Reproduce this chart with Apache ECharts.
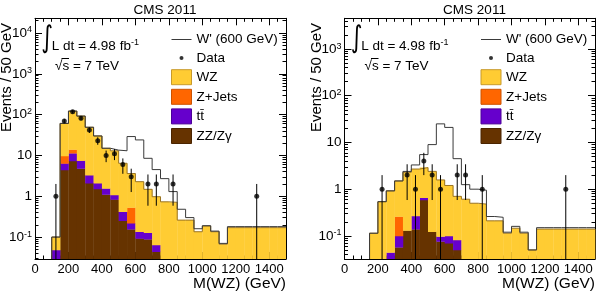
<!DOCTYPE html>
<html><head><meta charset="utf-8">
<script src="https://cdn.jsdelivr.net/npm/echarts@6/dist/echarts.min.js"></script>
<style>html,body{margin:0;padding:0;background:#fff}#c{width:600px;height:296px}</style>
</head><body><div id="c"></div>
<script>
// ---------- data (50 GeV bins) ----------
const binStart = [0,50,100,150,200,250,300,350,400,450,500,550,600,650,700,750,800,850,900,950,1000,1050,1100,1150,1200,1250,1300,1350,1400,1450];
const binWidth = 50;
const xTickLabels = ['0','200','400','600','800','1000','1200','1400'];
const yTickValues = [0.1, 1, 10, 100, 1000, 10000];
const yTickLabels = ['{b|10}{s|-1}', '1', '10', '{b|10}{s|2}', '{b|10}{s|3}', '{b|10}{s|4}'];
const legendNames = ["W' (600 GeV)", 'Data', 'WZ', 'Z+Jets', 'tt\u0304', 'ZZ/Z\u03b3'];

// left panel
const leftZZ = [0,0,0,4.4,7.3,4.8,2.1,1.5,1.1,0.84,0.25,0.155,0.093,0.088,0.044,0,0,0,0,0,0,0,0,0,0,0,0,0,0,0];
const leftTT = [0,0,0.048,2.0,4.0,2.6,1.2,0.6,0.46,0.23,0.17,0.065,0.042,0.04,0.02,0,0,0,0,0,0,0,0,0,0,0,0,0,0,0];
const leftZJ = [0,0,0,3.3,2.7,0.1,0,0,0,0,0,0.31,0,0,0,0,0,0,0,0,0,0,0,0,0,0,0,0,0,0];
const leftWZ = [0,0,0.052,51,108,84.5,45.7,27.9,13.4,11.9,6.0,3.07,2.14,1.35,0.91,0.73,0.71,0.26,0.26,0.135,0.186,0.135,0.067,0.17,0.17,0.17,0.17,0.17,0.17,0.17];
const leftWprime = [0,0,0.1,61,122,92,49,30,15,13.5,13,29,24,8.5,4.5,2.7,1.3,0.48,0.3,0.16,0.19,0.14,0.07,0.18,0.18,0.18,0.18,0.18,0.18,0.18];
const leftData = [0,0,1,70,118,81,42,23,10,11,6,3,0,2,2,0,2,0,0,0,0,0,0,0,0,0,1,0,0,0];

// right panel
const rightZZ = [0,0,0,0,0,0,0.057,0.13,0.139,0.59,0.123,0.076,0.07,0.05,0,0,0,0,0,0,0,0,0,0,0,0,0,0,0,0];
const rightTT = [0,0,0,0,0,0.044,0.043,0,0.129,0.07,0,0.021,0.03,0.032,0,0,0,0,0,0,0,0,0,0,0,0,0,0,0,0];
const rightZJ = [0,0,0,0,0,0,0.16,0,0,0,0,0,0,0,0,0,0,0,0,0,0,0,0,0,0,0,0,0,0,0];
const rightWZ = [0,0,0,0.114,0.54,0.876,1.24,2.17,2.43,2.24,2.28,1.48,1.1,0.62,0.61,0.5,0.48,0.21,0.21,0.114,0.146,0.114,0.05,0.14,0.14,0.14,0.14,0.14,0.14,0.14];
const rightWprime = [0,0,0,0.114,0.54,0.92,1.5,2.4,3.3,5.5,9,25,21,4.5,1.25,1.0,0.95,0.26,0.25,0.12,0.16,0.12,0.05,0.15,0.15,0.15,0.15,0.15,0.15,0.15];
const rightData = [0,0,0,0,1,0,0,2,1,4,2,1,0,2,2,0,1,0,0,0,0,0,0,0,0,0,1,0,0,0];

// ---------- style ----------
const FONT = 'Liberation Sans, Arial, Helvetica, sans-serif';
const COLORS = { zz:'#663300', tt:'#6600cc', zj:'#ff6600', wz:'#ffcc33' };
const BORDERS = { zz:'#4a2400', tt:'#4c0099', zj:'#cc5200', wz:'#c89a2a' };
const panels = [
  { left:35, width:251, ymin:0.029, ymax:22900, dx:0,
    zz:leftZZ, tt:leftTT, zj:leftZJ, wz:leftWZ, wp:leftWprime, data:leftData },
  { left:344.5, width:250.5, ymin:0.032, ymax:4550, dx:309.5,
    zz:rightZZ, tt:rightTT, zj:rightZJ, wz:rightWZ, wp:rightWprime, data:rightData }
];
const XMAX = 1500;

function rectRender(params, api) {
  const cs = params.coordSys;
  const x0 = api.value(0), x1 = api.value(1), lo = api.value(2), hi = api.value(3);
  const bottom = cs.y + cs.height;
  const pTop = api.coord([x0, hi]);
  const xR = api.coord([x1, hi])[0];
  let yLo = lo > 0 ? api.coord([x1, lo])[1] : bottom;
  if (yLo > bottom) yLo = bottom;
  const yTop = Math.max(pTop[1], cs.y);
  if (yTop >= yLo) return null;
  return { type:'rect', shape:{ x:pTop[0], y:yTop, width:xR - pTop[0] + 0.3, height:yLo - yTop + 0.3 },
           style:{ fill: api.visual('color') } };
}
function errRender(params, api) {
  const cs = params.coordSys;
  const x = api.value(0), lo = api.value(1), hi = api.value(2);
  const bottom = cs.y + cs.height;
  const pHi = api.coord([x, hi]);
  const yLo = lo > 0 ? Math.min(api.coord([x, lo])[1], bottom) : bottom;
  return { type:'line', shape:{ x1:pHi[0], y1:pHi[1], x2:pHi[0], y2:yLo }, style:{ stroke:'#000', lineWidth:1 } };
}
function stepPoints(vals, ymin) {
  const pts = [];
  let last = null;
  vals.forEach((v, i) => {
    if (v > 0) {
      if (last === null) pts.push([binStart[i], ymin]);
      pts.push([binStart[i], v]);
      last = v;
    }
  });
  pts.push([XMAX, last]);
  return pts;
}
function yLabel(v) {
  for (let k = 0; k < yTickValues.length; k++) {
    if (Math.abs(v - yTickValues[k]) / yTickValues[k] < 1e-6) return yTickLabels[k];
  }
  return '';
}
function xLabel(v) { const s = String(Math.round(v)); return xTickLabels.indexOf(s) >= 0 ? s : ''; }

const grids = [], xAxes = [], yAxes = [], series = [], legends = [], graphics = [];
panels.forEach((p, gi) => {
  grids.push({ left:p.left, top:18.3, width:p.width, height:240.7 });
  const tickCommon = { show:true, inside:true, length:7, lineStyle:{ color:'#000', width:1 } };
  const minorCommon = { show:true, length:3.5, lineStyle:{ color:'#000', width:1 } };
  ['bottom','top'].forEach(pos => {
    xAxes.push({ type:'value', gridIndex:gi, position:pos, min:0, max:XMAX, interval:200,
      axisLine:{ show:true, onZero:false, lineStyle:{ color:'#000', width:1 } },
      axisTick: tickCommon, minorTick: Object.assign({ splitNumber:4 }, minorCommon),
      splitLine:{ show:false }, minorSplitLine:{ show:false },
      axisLabel:{ show: pos === 'bottom', margin:4, color:'#000', fontSize:13, fontFamily:FONT,
        formatter: xLabel, showMaxLabel:false } });
  });
  ['left','right'].forEach(pos => {
    yAxes.push({ type:'log', logBase:10, gridIndex:gi, position:pos, min:p.ymin, max:p.ymax,
      axisLine:{ show:true, onZero:false, lineStyle:{ color:'#000', width:1 } },
      axisTick: tickCommon, minorTick: Object.assign({ splitNumber:9 }, minorCommon),
      splitLine:{ show:false }, minorSplitLine:{ show:false },
      axisLabel:{ show: pos === 'left', margin:3, color:'#000', fontSize:13.5, fontFamily:FONT,
        formatter: yLabel, showMinLabel:false, showMaxLabel:false,
        rich:{ b:{ fontSize:13.5, fontFamily:FONT, color:'#000', lineHeight:15 },
               s:{ fontSize:9, fontFamily:FONT, color:'#000', verticalAlign:'top', lineHeight:9 } } } });
  });
  const xi = 2 * gi, yi = 2 * gi;
  const layers = [ [legendNames[5], p.zz, 'zz'], [legendNames[4], p.tt, 'tt'], [legendNames[3], p.zj, 'zj'], [legendNames[2], p.wz, 'wz'] ];
  const cum = binStart.map(() => 0);
  layers.forEach(([name, vals, key]) => {
    const items = [];
    vals.forEach((v, i) => { if (v > 0) items.push([binStart[i], binStart[i] + binWidth, cum[i], cum[i] + v]); cum[i] += v; });
    series.push({ type:'custom', name, xAxisIndex:xi, yAxisIndex:yi, itemStyle:{ color:COLORS[key] },
      renderItem: rectRender, data: items, encode:{ x:0, y:3 }, clip:true, z:2, silent:true });
  });
  // stack outline
  series.push({ type:'line', name:'stack', xAxisIndex:xi, yAxisIndex:yi, step:'end', symbol:'none',
    data: stepPoints(cum, p.ymin), lineStyle:{ color:'#9a7424', width:1 }, clip:true, z:3, silent:true });
  // W' line
  series.push({ type:'line', name:legendNames[0], xAxisIndex:xi, yAxisIndex:yi, step:'end', symbol:'none', showSymbol:false,
    data: stepPoints(p.wp, p.ymin), lineStyle:{ color:'#3a3a3a', width:1 }, itemStyle:{ color:'#3a3a3a' }, clip:true, z:4, silent:true });
  // data
  const pts = [], errs = [];
  p.data.forEach((n, i) => { if (n > 0) {
    const xc = binStart[i] + binWidth / 2;
    pts.push([xc, n]); errs.push([xc, n - Math.sqrt(n), n + Math.sqrt(n)]);
  }});
  series.push({ type:'custom', name:'err', xAxisIndex:xi, yAxisIndex:yi, renderItem: errRender,
    data: errs, encode:{ x:0, y:2 }, clip:true, z:5, silent:true });
  series.push({ type:'scatter', name:legendNames[1], xAxisIndex:xi, yAxisIndex:yi, data: pts,
    symbol:'circle', symbolSize:5, itemStyle:{ color:'#000' }, clip:true, z:6, silent:true });

  legends.push({ orient:'vertical', left:166 + p.dx, top:27, itemWidth:20, itemHeight:15, itemGap:3.6,
    selectedMode:false, textStyle:{ fontSize:13.5, fontFamily:FONT, color:'#000', lineHeight:15 },
    data:[
      { name:legendNames[0], icon:'path://M0,0M20,15M0,7h20v1h-20z', itemStyle:{ color:'#3a3a3a' } },
      { name:legendNames[1], icon:'path://M0,0M20,15M8,7.5a2,2 0 1,0 4,0a2,2 0 1,0 -4,0Z', itemStyle:{ color:'#000' } },
      { name:legendNames[2], icon:'rect', itemStyle:{ color:COLORS.wz, borderColor:BORDERS.wz, borderWidth:1 } },
      { name:legendNames[3], icon:'rect', itemStyle:{ color:COLORS.zj, borderColor:BORDERS.zj, borderWidth:1 } },
      { name:legendNames[4], icon:'rect', itemStyle:{ color:COLORS.tt, borderColor:BORDERS.tt, borderWidth:1 } },
      { name:legendNames[5], icon:'rect', itemStyle:{ color:COLORS.zz, borderColor:BORDERS.zz, borderWidth:1 } }
    ] });

  const dx = p.dx;
  graphics.push(
    { type:'text', x:165 + dx, y:10, style:{ text:'CMS 2011', fontSize:13.5, fontFamily:FONT, fill:'#000', align:'center', verticalAlign:'middle' } },
    { type:'text', x:7 + dx, y:77.5, rotation:Math.PI/2, style:{ text:'Events / 50 GeV', fontSize:15, fontFamily:FONT, fill:'#000', align:'center', verticalAlign:'middle' } },
    { type:'text', x:p.left + p.width, y:284, style:{ text:'M(WZ) (GeV)', fontSize:15.5, fontFamily:FONT, fill:'#000', align:'right', verticalAlign:'middle' } },
    { type:'text', x:47 + dx, y:39, scaleX:0.75, style:{ text:'\u222b', fontSize:30, fontFamily:'DejaVu Sans', fill:'#000', align:'center', verticalAlign:'middle' } },
    { type:'text', x:51.7 + dx, y:46, style:{ text:'{a|L dt = 4.98 fb}{s|-1}', fill:'#000', align:'left', verticalAlign:'middle',
        rich:{ a:{ fontSize:13.5, fontFamily:FONT, color:'#000', lineHeight:16 }, s:{ fontSize:9, fontFamily:FONT, color:'#000', verticalAlign:'top', lineHeight:9 } } } },
    { type:'text', x:55 + dx, y:66, style:{ text:'\u221as = 7 TeV', fontSize:13.5, fontFamily:FONT, fill:'#000', align:'left', verticalAlign:'middle' } },
    { type:'line', shape:{ x1:61.5 + dx, y1:58.5, x2:69 + dx, y2:58.5 }, style:{ stroke:'#000', lineWidth:1 } }
  );
});

const chart = echarts.init(document.getElementById('c'), null, { renderer:'canvas' });
chart.setOption({
  animation:false, backgroundColor:'#fff',
  grid:grids, xAxis:xAxes, yAxis:yAxes, legend:legends, series:series, graphic:graphics,
  tooltip:{ show:false }
});
</script></body></html>
